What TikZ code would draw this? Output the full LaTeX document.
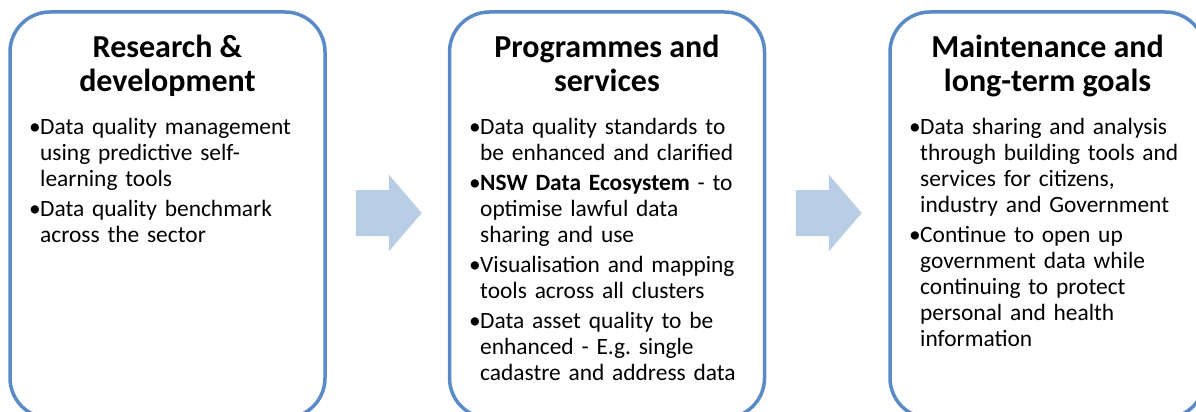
\documentclass[tikz,border=0pt]{standalone}
\usepackage{fontspec}
\setmainfont{Carlito}
\usetikzlibrary{calc}
\definecolor{boxblue}{HTML}{5B8BC7}
\definecolor{arrowblue}{HTML}{B9CDE5}
\newcommand{\pointline}[1]{\par\hangindent=11pt\hangafter=1\noindent\makebox[11pt][l]{\textbullet}#1\par}
\tikzset{
  stagebox/.style={draw=boxblue, line width=3.5pt, rounded corners=40pt, minimum width=315pt, minimum height=406pt, inner sep=0pt, outer sep=0pt},
  stagetitle/.style={font=\bfseries\fontsize{32}{34}\selectfont, align=center, inner sep=0pt, anchor=north},
  stagetext/.style={font=\fontsize{23.4}{26}\selectfont\frenchspacing\setlength{\parskip}{4pt}, text width=300pt, align=left, inner sep=0pt, anchor=north west},
  stagearrow/.style={fill=arrowblue}
}

\begin{document}
\begin{tikzpicture}[x=1pt, y=-1pt]
		\useasboundingbox (0,0) rectangle (1196,412);
		\clip (0,0) rectangle (1196,412);
		
		%%%%% STAGES %%%%%
		\node[stagebox] (rd) at (167.5,215) {};
		\node[stagebox] (ps) at (607,215) {};
		\node[stagebox] (mt) at (1047.5,215) {};
		
		\node[stagetitle] (rdtitle) at (167.5,35) {Research \&\\development};
		\node[stagetitle] (pstitle) at (607,35) {Programmes and\\services};
		\node[stagetitle] (mttitle) at (1047.5,35) {Maintenance and\\long-term goals};
		
		%%%%% POINTS %%%%%
		\node[stagetext] (rdtext) at (29,104) {%
			\pointline{Data quality management\newline using predictive self-\newline learning tools}
			\pointline{Data quality benchmark\newline across the sector}};
		\node[stagetext] (pstext) at (469,104) {%
			\pointline{Data quality standards to\newline be enhanced and clarified}
			\pointline{\textbf{NSW Data Ecosystem} - to\newline optimise lawful data\newline sharing and use}
			\pointline{Visualisation and mapping\newline tools across all clusters}
			\pointline{Data asset quality to be\newline enhanced - E.g. single\newline cadastre and address data}};
		\node[stagetext] (mttext) at (909,104) {%
			\pointline{Data sharing and analysis\newline through building tools and\newline services for citizens,\newline industry and Government}
			\pointline{Continue to open up\newline government data while\newline continuing to protect\newline personal and health\newline information}};
		
		%%%%% ARROWS %%%%%
		\coordinate (a1) at ($(rd.east)!0.5!(ps.west)+(1.5,-2)$);
		\coordinate (a2) at ($(ps.east)!0.5!(mt.west)+(1.5,-2)$);
		\fill[stagearrow] ($(a1)+(-33,-23)$) -- ++(33,0) -- ++(0,-15.5) -- ++(33,38.5) -- ++(-33,38.5) -- ++(0,-15.5) -- ++(-33,0) -- cycle;
		\fill[stagearrow] ($(a2)+(-33,-23)$) -- ++(33,0) -- ++(0,-15.5) -- ++(33,38.5) -- ++(-33,38.5) -- ++(0,-15.5) -- ++(-33,0) -- cycle;
		
	\end{tikzpicture}
\end{document}
